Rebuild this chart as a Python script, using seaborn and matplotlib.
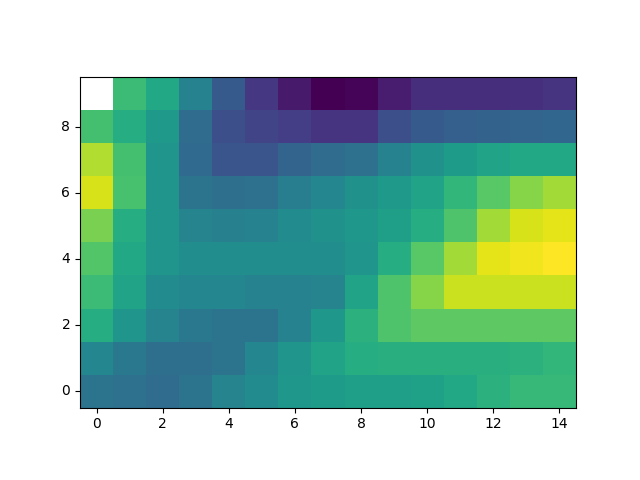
import numpy as np
import matplotlib
matplotlib.use("Agg")
import matplotlib.pyplot as plt
import seaborn as sns

# rows listed from y=0 (bottom) to y=9 (top), 15 columns each
row0 = [0.38, 0.37, 0.35, 0.38, 0.45, 0.48, 0.53, 0.55, 0.56, 0.56, 0.57, 0.60, 0.64, 0.67, 0.67]
row1 = [0.46, 0.40, 0.36, 0.36, 0.38, 0.46, 0.52, 0.58, 0.62, 0.63, 0.63, 0.63, 0.63, 0.64, 0.66]
row2 = [0.62, 0.52, 0.45, 0.40, 0.38, 0.38, 0.44, 0.53, 0.64, 0.72, 0.75, 0.75, 0.75, 0.75, 0.75]
row3 = [0.68, 0.58, 0.48, 0.46, 0.46, 0.44, 0.44, 0.45, 0.58, 0.72, 0.82, 0.92, 0.92, 0.92, 0.92]
row4 = [0.73, 0.60, 0.52, 0.49, 0.49, 0.49, 0.49, 0.49, 0.52, 0.62, 0.74, 0.86, 0.96, 0.98, 1.00]
row5 = [0.80, 0.62, 0.52, 0.45, 0.43, 0.44, 0.48, 0.50, 0.53, 0.56, 0.62, 0.72, 0.86, 0.94, 0.96]
row6 = [0.94, 0.71, 0.52, 0.38, 0.36, 0.37, 0.42, 0.46, 0.50, 0.54, 0.58, 0.66, 0.74, 0.82, 0.86]
row7 = [0.88, 0.70, 0.52, 0.34, 0.26, 0.26, 0.32, 0.35, 0.37, 0.44, 0.50, 0.55, 0.58, 0.60, 0.60]
row8 = [0.70, 0.62, 0.54, 0.35, 0.24, 0.20, 0.18, 0.15, 0.15, 0.24, 0.28, 0.30, 0.31, 0.32, 0.33]
row9 = [np.nan, 0.68, 0.60, 0.44, 0.28, 0.16, 0.07, 0.00, 0.01, 0.08, 0.13, 0.13, 0.13, 0.14, 0.15]

grid = np.array([row0, row1, row2, row3, row4, row5, row6, row7, row8, row9])

fig, ax = plt.subplots(figsize=(6.4, 4.8), dpi=100)
sns.heatmap(grid, cmap="viridis", vmin=0, vmax=1, cbar=False, square=True, ax=ax)

# bottom-up like imshow(origin='lower')
ax.set_ylim(0, grid.shape[0])
ax.set_xticks(np.arange(0, 15, 2) + 0.5)
ax.set_xticklabels([str(i) for i in range(0, 15, 2)], rotation=0)
ax.set_yticks(np.arange(0, 10, 2) + 0.5)
ax.set_yticklabels([str(i) for i in range(0, 10, 2)], rotation=0)
ax.tick_params(length=3.5, width=0.8, labelsize=10)
for s in ax.spines.values():
    s.set_visible(True)
    s.set_linewidth(0.8)
ax.set_xlabel("")
ax.set_ylabel("")

fig.savefig("out.png", dpi=100)
